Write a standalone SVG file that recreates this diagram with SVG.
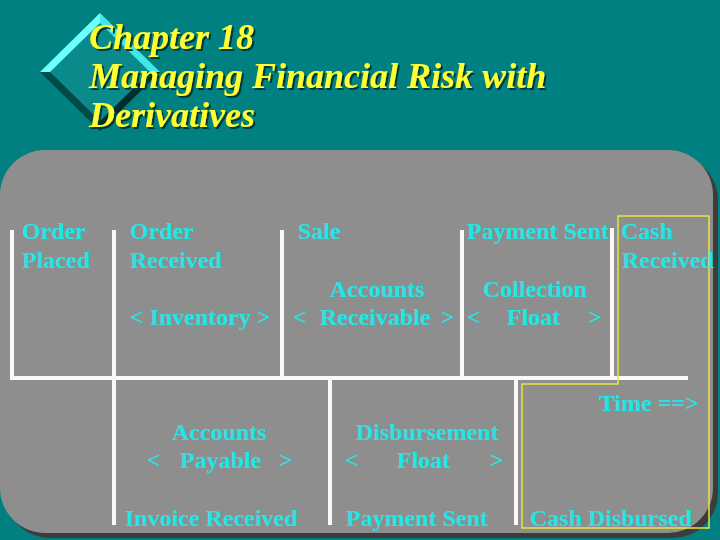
<svg xmlns="http://www.w3.org/2000/svg" width="720" height="540" viewBox="0 0 720 540">
<defs>
<style>
.lbl{font-family:"Liberation Serif","Times New Roman",serif;font-weight:bold;font-size:24px;fill:#22e6e6}
.ttl{font-family:"Liberation Serif","Times New Roman",serif;font-weight:bold;font-style:italic;font-size:36px;fill:#ffff33}
.wl{stroke:#f8f8f8;stroke-width:4;fill:none}
</style>
<filter id="tshadow" x="-5%" y="-20%" width="110%" height="140%">
<feDropShadow dx="2" dy="2" stdDeviation="0.4" flood-color="#003a3a" flood-opacity="1"/>
</filter>
</defs>
<rect width="720" height="540" fill="#008080"/>
<g id="diamond">
<polygon points="100,13 160,72 100,131 40,72" fill="#0a8a8a"/>
<polygon points="40,72 100,13 100,23 50,72" fill="#70ffff"/>
<polygon points="100,13 160,72 150,72 100,23" fill="#3ee8e8"/>
<polygon points="40,72 50,72 100,121 100,131" fill="#004a4a"/>
<polygon points="160,72 100,131 100,121 150,72" fill="#002c2c"/>
</g>
<g id="title" filter="url(#tshadow)">
<text class="ttl" x="89" y="49">Chapter 18</text>
<text class="ttl" x="89" y="88">Managing Financial Risk with</text>
<text class="ttl" x="89" y="127">Derivatives</text>
</g>
<g id="panel">
<rect x="5" y="155" width="713" height="383" rx="45" fill="#3c3c3c"/>
<rect x="0" y="150" width="713" height="383" rx="45" fill="#8e8e8e"/>
</g>
<g id="connectors">
<polyline class="wl" points="12,230 12,378 688,378"/>
<line class="wl" x1="114" y1="230" x2="114" y2="525"/>
<line class="wl" x1="282" y1="230" x2="282" y2="376"/>
<line class="wl" x1="462" y1="230" x2="462" y2="376"/>
<line class="wl" x1="612" y1="228" x2="612" y2="376"/>
<line class="wl" x1="330" y1="380" x2="330" y2="525"/>
<line class="wl" x1="516" y1="380" x2="516" y2="525"/>
<polygon points="618,216 709,216 709,528 522,528 522,384 618,384" fill="none" stroke="#e6e640" stroke-width="1.5"/>
</g>
<g id="order-placed"><text class="lbl" x="22" y="239">Order</text><text class="lbl" x="22" y="268">Placed</text></g>
<g id="order-received"><text class="lbl" x="130" y="239">Order</text><text class="lbl" x="130" y="268">Received</text></g>
<g id="sale"><text class="lbl" x="298" y="239">Sale</text></g>
<g id="payment-sent-top"><text class="lbl" x="467" y="239">Payment Sent</text></g>
<g id="cash-received"><text class="lbl" x="621" y="239">Cash</text><text class="lbl" x="622" y="268">Received</text></g>
<g id="inventory"><text class="lbl" x="130" y="325">&lt; Inventory &gt;</text></g>
<g id="accounts-receivable"><text class="lbl" x="330" y="297">Accounts</text><text class="lbl" y="325"><tspan x="293">&lt;</tspan><tspan x="320">Receivable</tspan><tspan x="441">&gt;</tspan></text></g>
<g id="collection-float"><text class="lbl" x="483" y="297">Collection</text><text class="lbl" y="325"><tspan x="467">&lt;</tspan><tspan x="507">Float</tspan><tspan x="588">&gt;</tspan></text></g>
<g id="time"><text class="lbl" x="599" y="411">Time ==&gt;</text></g>
<g id="accounts-payable"><text class="lbl" x="172" y="440">Accounts</text><text class="lbl" y="468"><tspan x="147">&lt;</tspan><tspan x="180">Payable</tspan><tspan x="279">&gt;</tspan></text></g>
<g id="disbursement-float"><text class="lbl" x="356" y="440">Disbursement</text><text class="lbl" y="468"><tspan x="345">&lt;</tspan><tspan x="397">Float</tspan><tspan x="490">&gt;</tspan></text></g>
<g id="invoice-received"><text class="lbl" x="125" y="526">Invoice Received</text></g>
<g id="payment-sent-bottom"><text class="lbl" x="346" y="526">Payment Sent</text></g>
<g id="cash-disbursed"><text class="lbl" x="530" y="526">Cash Disbursed</text></g>
</svg>
